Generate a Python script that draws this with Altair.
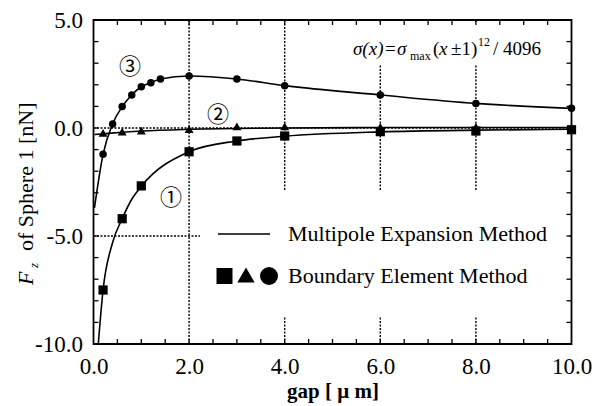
import altair as alt
import pandas as pd

# ---------------- data ----------------
# Multipole Expansion Method (solid curves)
gap_mem_1 = [0.1, 0.2, 0.4, 0.6, 0.8, 1.0, 2.0, 3.0, 4.0, 6.0, 8.0, 10.0]
fz_mem_1 = [-10.0, -7.5, -5.3, -4.2, -3.3, -2.7, -1.1, -0.6, -0.38, -0.18, -0.1, -0.06]
gap_mem_2 = [0.02, 0.2, 0.6, 1.0, 2.0, 3.0, 4.0, 6.0, 8.0, 10.0]
fz_mem_2 = [-0.3, -0.27, -0.2, -0.14, -0.06, -0.02, 0.0, 0.02, 0.02, 0.02]
gap_mem_3 = [0.02, 0.2, 0.4, 0.6, 0.8, 1.0, 1.2, 1.4, 2.0, 3.0, 4.0, 6.0, 8.0, 10.0]
fz_mem_3 = [-3.7, -1.22, 0.19, 0.99, 1.53, 1.91, 2.1, 2.27, 2.41, 2.27, 1.96, 1.53, 1.14, 0.91]

# Boundary Element Method (markers)
gap_bem_1 = [0.2, 0.6, 1.0, 2.0, 3.0, 4.0, 6.0, 8.0, 10.0]
fz_bem_1 = [-7.5, -4.2, -2.68, -1.1, -0.6, -0.37, -0.17, -0.14, -0.08]
gap_bem_2 = [0.2, 0.6, 1.0, 2.0, 3.0, 4.0, 6.0, 8.0, 10.0]
fz_bem_2 = [-0.22, -0.17, -0.12, -0.05, 0.07, 0.07, 0.05, 0.05, 0.03]
gap_bem_3 = [0.2, 0.4, 0.6, 0.8, 1.0, 1.2, 1.4, 2.0, 3.0, 4.0, 6.0, 8.0, 10.0]
fz_bem_3 = [-1.22, 0.19, 0.99, 1.53, 1.91, 2.1, 2.27, 2.41, 2.27, 1.96, 1.53, 1.14, 0.91]

# axes
x_labels = [0, 2, 4, 6, 8, 10]
y_labels = [-10, -5, 0, 5]
x_ticks = [0.5, 1.0, 1.5, 2.0, 2.5, 3.0, 3.5, 4.0, 4.5, 5.0, 5.5, 6.0, 6.5, 7.0, 7.5, 8.0, 8.5, 9.0, 9.5]
y_ticks = [-9, -8, -7, -6, -5, -4, -3, -2, -1, 0, 1, 2, 3, 4]
x_grid = [2, 4, 6, 8]
y_grid = [-5, 0]

W, H = 478, 324
FONT = "Liberation Serif"
CJK = "Noto Sans CJK JP"

xs = alt.Scale(domain=[0, 10], nice=False, zero=False)
ys = alt.Scale(domain=[-10, 5], nice=False, zero=False)
LBL = "(datum.value < 0 ? '-' : '') + format(abs(datum.value), '.1f')"

x_axis = alt.Axis(values=x_labels, labelExpr=LBL, ticks=False, tickSize=0, domain=False, grid=False,
                  labelFont=FONT, labelFontSize=23, labelFontWeight="normal", labelColor="black",
                  labelPadding=11, labelFlush=False, labelOverlap=False,
                  title="gap [ μ m]", titleFont=FONT, titleFontSize=21, titleFontWeight="bold",
                  titleColor="black", titlePadding=2)
y_axis = alt.Axis(values=y_labels, labelExpr=LBL, ticks=False, tickSize=0, domain=False, grid=False,
                  labelFont=FONT, labelFontSize=23, labelFontWeight="normal", labelColor="black",
                  labelPadding=11, labelFlush=False, labelOverlap=False, title=None)

one = pd.DataFrame({"a": [0]})


def df(xv, yv):
    return pd.DataFrame({"x": xv, "y": yv})


def X(field):
    return alt.X(field, scale=xs, axis=x_axis)


def Y(field):
    return alt.Y(field, scale=ys, axis=y_axis)


layers = []

# grid lines (dotted)
layers.append(alt.Chart(pd.DataFrame({"g": x_grid})).mark_rule(
    color="black", strokeWidth=1.4, strokeDash=[2, 1.5]).encode(x=X("g:Q")))
layers.append(alt.Chart(pd.DataFrame({"g": y_grid})).mark_rule(
    color="black", strokeWidth=1.4, strokeDash=[2, 1.5]).encode(y=Y("g:Q")))

# white boxes behind formula and legend
layers.append(alt.Chart(one).mark_rect(color="white").encode(
    x=alt.value(246.5), x2=alt.value(474.5), y=alt.value(2), y2=alt.value(45)))
layers.append(alt.Chart(one).mark_rect(color="white").encode(
    x=alt.value(106.5), x2=alt.value(474.5), y=alt.value(170), y2=alt.value(297)))

# MEM curves
for gx, fy in [(gap_mem_1, fz_mem_1), (gap_mem_2, fz_mem_2), (gap_mem_3, fz_mem_3)]:
    layers.append(alt.Chart(df(gx, fy)).mark_line(
        color="black", strokeWidth=1.6, interpolate="monotone", clip=True).encode(
        x=X("x:Q"), y=Y("y:Q")))

# BEM markers
for gx, fy, shp, sz in [(gap_bem_1, fz_bem_1, "square", 85),
                        (gap_bem_2, fz_bem_2, "triangle-up", 80),
                        (gap_bem_3, fz_bem_3, "circle", 56)]:
    layers.append(alt.Chart(df(gx, fy)).mark_point(
        filled=True, shape=shp, size=sz, color="black", opacity=1).encode(
        x=X("x:Q"), y=Y("y:Q")))

# inner tick marks on all four sides
tx = pd.DataFrame({"t": x_ticks})
ty = pd.DataFrame({"t": y_ticks})
layers.append(alt.Chart(tx).mark_rule(color="black", strokeWidth=1.3).encode(
    x=X("t:Q"), y=alt.value(H), y2=alt.value(H - 5)))
layers.append(alt.Chart(tx).mark_rule(color="black", strokeWidth=1.3).encode(
    x=X("t:Q"), y=alt.value(0), y2=alt.value(5)))
layers.append(alt.Chart(ty).mark_rule(color="black", strokeWidth=1.3).encode(
    y=Y("t:Q"), x=alt.value(0), x2=alt.value(5)))
layers.append(alt.Chart(ty).mark_rule(color="black", strokeWidth=1.3).encode(
    y=Y("t:Q"), x=alt.value(W), x2=alt.value(W - 5)))


def txt(s, x, y, size=22, font=FONT, style="normal", align="left", baseline="alphabetic", angle=0):
    return alt.Chart(one).mark_text(
        text=s, font=font, fontSize=size, fontStyle=style, align=align,
        baseline=baseline, color="black", angle=angle).encode(
        x=alt.value(x), y=alt.value(y))


# circled series labels
layers.append(txt("③", 36.5, 47, size=22, font=CJK, align="center", baseline="middle"))
layers.append(txt("②", 124.5, 95, size=22, font=CJK, align="center", baseline="middle"))
layers.append(txt("①", 77.5, 178, size=22, font=CJK, align="center", baseline="middle"))

# formula
layers.append(txt("σ(x)", 259.5, 35, size=19, style="italic"))
layers.append(txt("=", 291.5, 35, size=19))
layers.append(txt("σ", 303.5, 35, size=19, style="italic"))
layers.append(txt("max", 316.5, 40, size=12))
layers.append(txt("(", 339.5, 35, size=19))
layers.append(txt("x", 345.5, 35, size=19, style="italic"))
layers.append(txt("±1)", 357.5, 35, size=19))
layers.append(txt("12", 384.5, 26, size=12))
layers.append(txt("/ 4096", 399.5, 35, size=19))

# legend
layers.append(alt.Chart(one).mark_rule(color="black", strokeWidth=1.6).encode(
    x=alt.value(124.5), x2=alt.value(176.5), y=alt.value(214)))
layers.append(txt("Multipole Expansion Method", 194.5, 214, baseline="middle"))
layers.append(alt.Chart(one).mark_point(filled=True, shape="square", size=256, color="black", opacity=1).encode(
    x=alt.value(131), y=alt.value(256)))
layers.append(alt.Chart(one).mark_point(filled=True, shape="triangle-up", size=300, color="black", opacity=1).encode(
    x=alt.value(152.5), y=alt.value(255)))
layers.append(alt.Chart(one).mark_point(filled=True, shape="circle", size=324, color="black", opacity=1).encode(
    x=alt.value(175.5), y=alt.value(256)))
layers.append(txt("Boundary Element Method", 194.5, 256, baseline="middle"))

# y title:  F_z of Sphere 1 [nN]  (rotated)
layers.append(txt("F", -60.5, 265, style="italic", angle=270))
layers.append(txt("z", -55.5, 248, size=13, style="italic", angle=270))
layers.append(txt("of Sphere 1 [nN]", -60.5, 231, angle=270))

chart = alt.layer(*layers).properties(
    width=W, height=H,
    background="white",
    padding={"left": 85.5, "top": 12, "right": 20, "bottom": 60},
    autosize=alt.AutoSizeParams(type="none"),
).configure_view(stroke="black", strokeWidth=1.8)

chart.save("out.html", embed_options={"renderer": "svg", "actions": False})
